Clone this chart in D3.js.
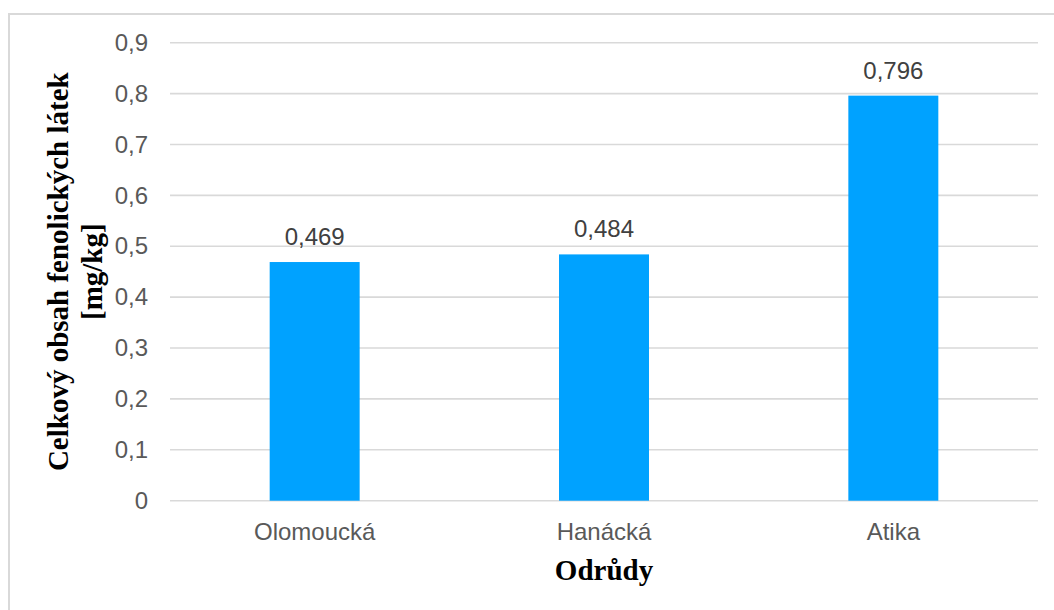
<!DOCTYPE html>
<html>
<head>
<meta charset="utf-8">
<script src="https://cdn.jsdelivr.net/npm/d3@7"></script>
<style>
  html, body { margin: 0; padding: 0; background: #fff; }
  svg { display: block; }
</style>
</head>
<body>
<svg id="chart" width="1054" height="610"></svg>
<script>
// Total phenolic content per variety
const varieties = ["Olomoucká", "Hanácká", "Atika"];
const phenolics = [0.469, 0.484, 0.796];
const yTicks = [0, 0.1, 0.2, 0.3, 0.4, 0.5, 0.6, 0.7, 0.8, 0.9];

const W = 1054, H = 610;
const plot = { left: 170, right: 1038, top: 42.7, bottom: 500.7 };

const svg = d3.select("#chart");
const fmt = v => String(v).replace(".", ",");
const sansFont = "'Liberation Sans', Arial, Helvetica, sans-serif";
const sansSize = "24px";

// outer frame
svg.append("rect")
  .attr("x", 9).attr("y", 14)
  .attr("width", W + 20).attr("height", H + 20)
  .attr("fill", "#fff")
  .attr("stroke", "#d9d9d9").attr("stroke-width", 2);

const x = d3.scaleBand()
  .domain(varieties)
  .range([plot.left, plot.right])
  .paddingInner(0.689)
  .paddingOuter(0.3445);

const y = d3.scaleLinear()
  .domain([0, 0.9])
  .range([plot.bottom, plot.top]);

// horizontal gridlines
svg.append("g")
  .selectAll("line")
  .data(yTicks)
  .join("line")
  .attr("x1", plot.left).attr("x2", plot.right)
  .attr("y1", d => y(d)).attr("y2", d => y(d))
  .attr("stroke", "#d9d9d9").attr("stroke-width", 1.6);

// y axis labels
const yAxis = d3.axisLeft(y).tickValues(yTicks).tickFormat(fmt).tickSize(0).tickPadding(22);
const gy = svg.append("g")
  .attr("transform", `translate(${plot.left},0)`)
  .call(yAxis);
gy.select(".domain").remove();
gy.selectAll("text")
  .attr("fill", "#595959")
  .style("font-family", sansFont)
  .style("font-size", sansSize);

// bars
svg.append("g")
  .selectAll("rect")
  .data(varieties)
  .join("rect")
  .attr("x", d => x(d))
  .attr("width", x.bandwidth())
  .attr("y", (d, i) => y(phenolics[i]))
  .attr("height", (d, i) => y(0) - y(phenolics[i]))
  .attr("fill", "#00A2FF");

// value labels
svg.append("g")
  .selectAll("text")
  .data(varieties)
  .join("text")
  .attr("x", d => x(d) + x.bandwidth() / 2)
  .attr("y", (d, i) => y(phenolics[i]) - 17)
  .attr("text-anchor", "middle")
  .attr("fill", "#404040")
  .style("font-family", sansFont)
  .style("font-size", sansSize)
  .text((d, i) => fmt(phenolics[i]));

// x axis labels
const xAxis = d3.axisBottom(x).tickSize(0).tickPadding(0);
const gx = svg.append("g")
  .attr("transform", `translate(0,${plot.bottom})`)
  .call(xAxis);
gx.select(".domain").remove();
gx.selectAll("text")
  .attr("dy", null)
  .attr("y", 39.5)
  .attr("fill", "#595959")
  .style("font-family", sansFont)
  .style("font-size", sansSize);

// axis titles
const titleFont = "'Liberation Serif', 'Times New Roman', serif";
svg.append("text")
  .attr("x", (plot.left + plot.right) / 2)
  .attr("y", 580)
  .attr("text-anchor", "middle")
  .style("font-family", titleFont)
  .style("font-weight", "bold")
  .style("font-size", "29px")
  .attr("fill", "#000")
  .text("Odrůdy");

const yTitle = svg.append("text")
  .attr("transform", `translate(68,${(plot.top + plot.bottom) / 2}) rotate(-90)`)
  .attr("text-anchor", "middle")
  .style("font-family", titleFont)
  .style("font-weight", "bold")
  .style("font-size", "29px")
  .attr("fill", "#000");
yTitle.append("tspan").attr("x", 0).attr("y", 0).text("Celkový obsah fenolických látek");
yTitle.append("tspan").attr("x", 0).attr("y", 34).text("[mg/kg]");
</script>
</body>
</html>
